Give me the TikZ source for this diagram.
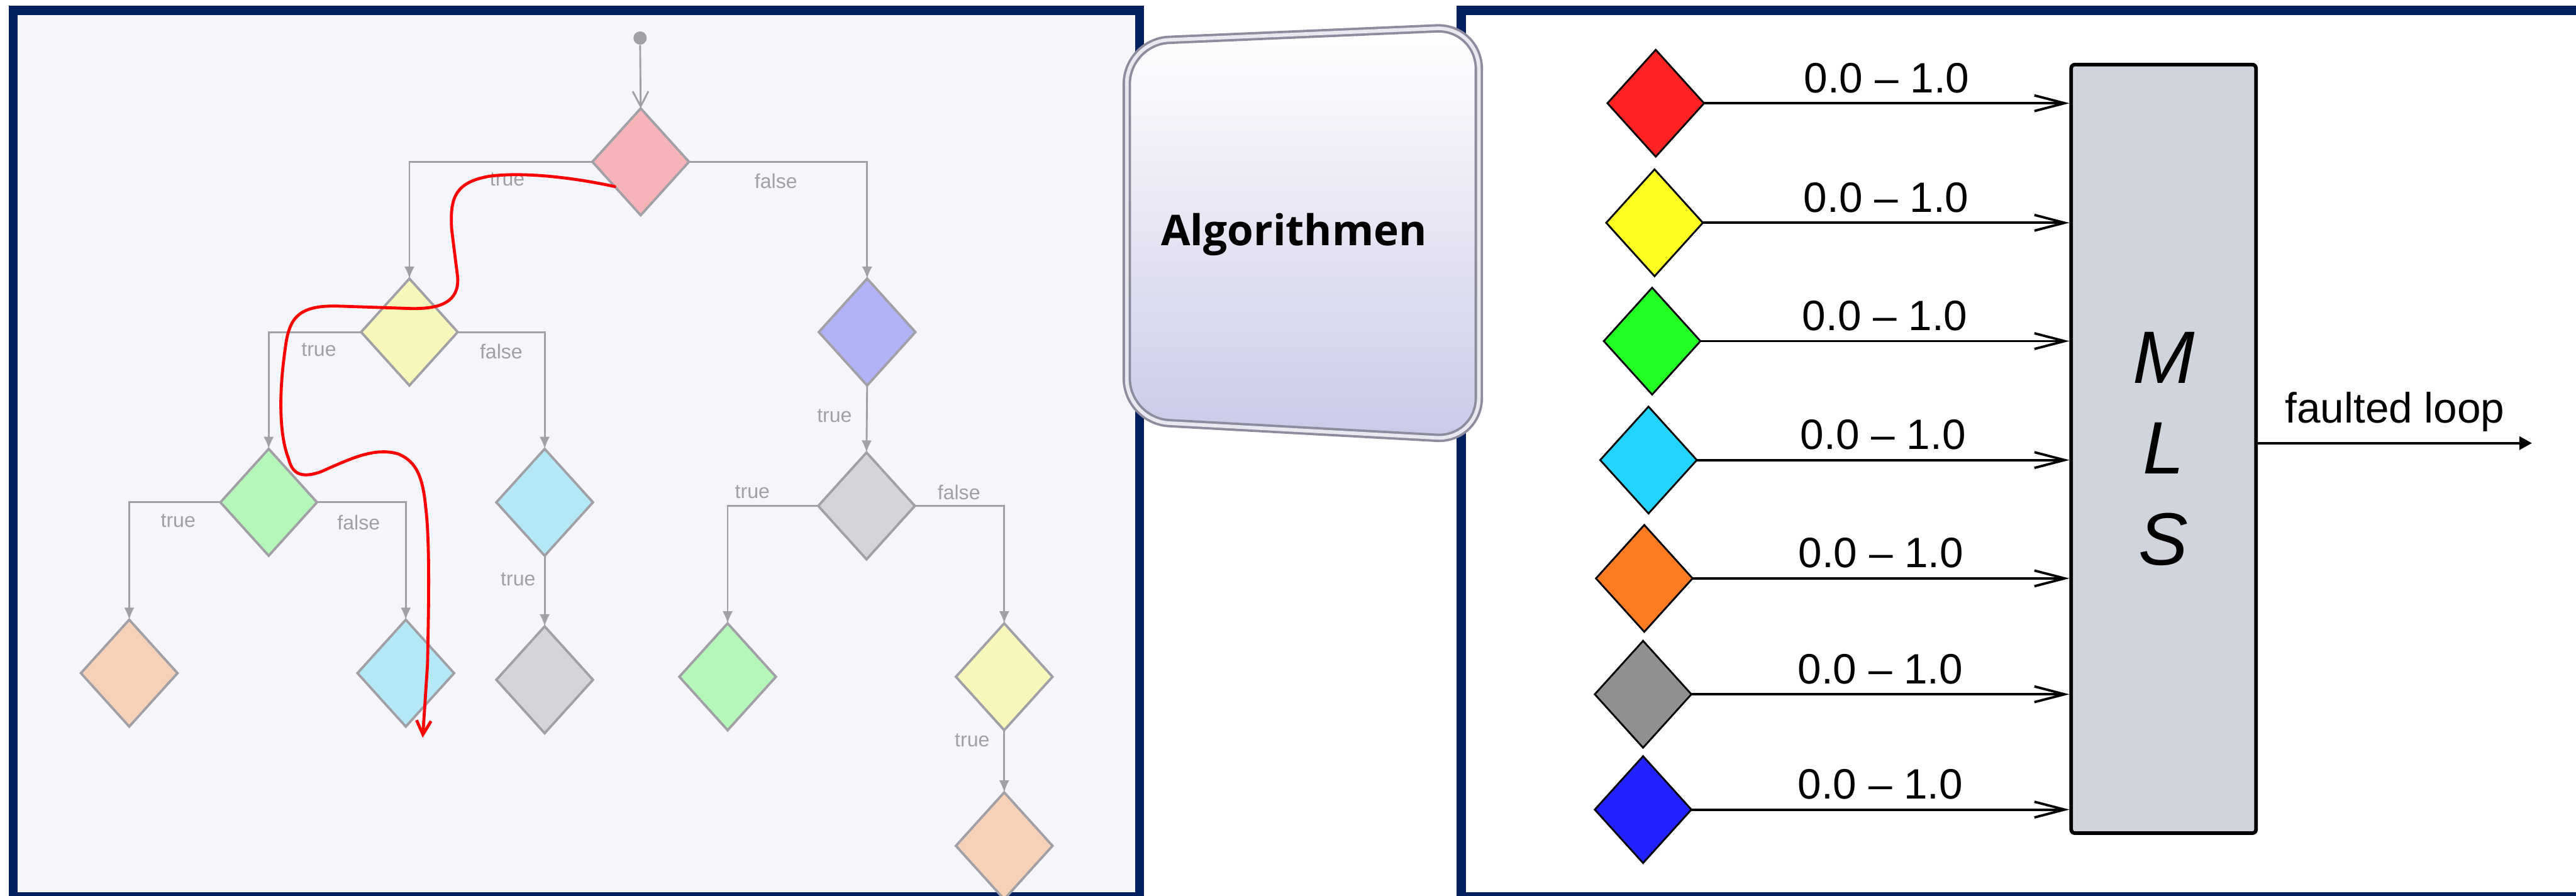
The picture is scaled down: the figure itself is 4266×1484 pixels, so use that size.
\documentclass[tikz,border=0pt]{standalone}
\usepackage{fontspec}
\setmainfont{Liberation Sans}
\newfontfamily\algfont{Open Sans}
\usetikzlibrary{shapes.geometric,arrows.meta,positioning}

\definecolor{navy}{RGB}{0,32,96}
\definecolor{panelbg}{RGB}{246,246,250}
\definecolor{treegray}{RGB}{160,160,166}
\definecolor{pinkd}{RGB}{247,180,184}
\definecolor{yeld}{RGB}{247,246,187}
\definecolor{blud}{RGB}{178,178,247}
\definecolor{grnd}{RGB}{180,247,184}
\definecolor{lblud}{RGB}{180,232,247}
\definecolor{gryd}{RGB}{213,213,217}
\definecolor{pchd}{RGB}{247,208,184}
\definecolor{sigred}{RGB}{255,34,34}
\definecolor{sigyel}{RGB}{255,255,34}
\definecolor{siggrn}{RGB}{34,255,34}
\definecolor{sigcyn}{RGB}{34,212,255}
\definecolor{sigorg}{RGB}{255,123,34}
\definecolor{siggry}{RGB}{144,144,144}
\definecolor{sigblu}{RGB}{34,34,255}
\definecolor{mlsgray}{RGB}{208,212,220}
\definecolor{algbottom}{RGB}{202,202,232}
\definecolor{rimdark}{RGB}{140,140,158}
\definecolor{rimlight}{RGB}{232,232,240}

\begin{document}
\begin{tikzpicture}[x=0.1mm,y=-0.1mm]

\tikzset{dia/.style={diamond, draw=treegray, line width=0.4mm, minimum width=16mm, minimum height=17.7mm, inner sep=0pt, outer sep=0pt},
branch/.style={treegray, line width=0.3mm, -{Latex[length=2mm,width=1.7mm]}},
cond/.style={text=treegray, font=\fontsize{9.5}{11}\selectfont, inner sep=0pt},
sig/.style={diamond, draw=black, line width=0.3mm, minimum width=16mm, minimum height=17.7mm, inner sep=0pt, outer sep=0pt},
feed/.style={black, line width=0.4mm, -{Straight Barb[length=5mm,width=2.6mm]}},
rlabel/.style={font=\fontsize{20}{24}\selectfont, inner sep=1.5mm}}

\useasboundingbox (0,0) rectangle (4266,1484);
\clip (0,0) rectangle (4266,1484);

% the two panels
\draw [navy,line width=1.5mm,fill=panelbg] (22,17) rectangle (1887,1485);
\draw [navy,line width=1.5mm,fill=white] (2420,17) rectangle (4290,1485);

% decision tree
\node [circle,fill=treegray,minimum size=2.2mm,inner sep=0pt] (s) at (1060,63) {};
\node [dia,fill=pinkd] (d0) at (1061,268) {};
\node [dia,fill=yeld] (d1) at (678,550) {};
\node [dia,fill=blud] (d2) at (1436,550) {};
\node [dia,fill=grnd] (d3) at (445,832) {};
\node [dia,fill=lblud] (d4) at (902,832) {};
\node [dia,fill=gryd] (d5) at (1435,838) {};
\node [dia,fill=pchd] (d6) at (214,1115) {};
\node [dia,fill=lblud] (d7) at (672,1115) {};
\node [dia,fill=gryd] (d8) at (902,1126) {};
\node [dia,fill=grnd] (d9) at (1205,1121) {};
\node [dia,fill=yeld] (d10) at (1663,1121) {};
\node [dia,fill=pchd] (d11) at (1663,1401) {};

\draw [treegray,line width=0.3mm,-{Straight Barb[length=2.5mm,width=2.6mm]}] (s) -- (d0.north);
\draw [branch] (d0.west) -| (d1.north);
\draw [branch] (d0.east) -| (d2.north);
\draw [branch] (d1.west) -| (d3.north);
\draw [branch] (d1.east) -| (d4.north);
\draw [branch] (d2.south) -- (d5.north);
\draw [branch] (d3.west) -| (d6.north);
\draw [branch] (d3.east) -| (d7.north);
\draw [branch] (d4.south) -- (d8.north);
\draw [branch] (d5.west) -| (d9.north);
\draw [branch] (d5.east) -| (d10.north);
\draw [branch] (d10.south) -- (d11.north);

\node [cond] (t0) at (840,297) {true};
\node [cond] (f0) at (1285,300) {false};
\node [cond] (t1) at (528,579) {true};
\node [cond] (f1) at (830,582) {false};
\node [cond] (t2) at (1382,689) {true};
\node [cond] (t3) at (295,863) {true};
\node [cond] (f3) at (594,866) {false};
\node [cond] (t4) at (858,960) {true};
\node [cond] (t5) at (1246,815) {true};
\node [cond] (f5) at (1588,815) {false};
\node [cond] (t10) at (1610,1226) {true};

% hand drawn trace through the tree
\coordinate (trace) at (1018,309);
\draw [red,line width=0.5mm,line cap=round,-{Straight Barb[length=2.3mm,width=2.4mm]}] (trace)
  .. controls (940,292) and (860,285) .. (810,292)
  .. controls (752,302) and (745,330) .. (748,380)
  -- (758,460)
  .. controls (760,500) and (730,512) .. (680,511)
  -- (560,507)
  .. controls (490,505) and (478,530) .. (472,580)
  .. controls (462,650) and (462,720) .. (478,760)
  .. controls (485,790) and (505,790) .. (530,782)
  .. controls (580,760) and (620,740) .. (660,752)
  .. controls (690,765) and (700,790) .. (705,840)
  .. controls (712,900) and (710,1000) .. (708,1100)
  -- (700,1222);

% middle box
\shade [top color=white,bottom color=algbottom,rounded corners=7mm] (1866,69) -- (2449,44) -- (2449,729) -- (1866,697) -- cycle;
\draw [rimdark,line width=1.4mm,rounded corners=7mm] (1866,69) -- (2449,44) -- (2449,729) -- (1866,697) -- cycle;
\draw [rimlight,line width=0.6mm,rounded corners=7mm] (1866,69) -- (2449,44) -- (2449,729) -- (1866,697) -- cycle;
\node [font=\algfont\bfseries\fontsize{20}{24}\selectfont] (alg) at (2143,388) {Algorithmen};

% inputs of the MLS block
\node [draw=black,line width=0.6mm,fill=mlsgray,minimum width=30.6mm,minimum height=127.3mm,rounded corners=0.6mm,inner sep=0pt,align=center,font=\fontsize{35}{42.7}\selectfont\itshape] (mls) at (3583,743.5) {M\\L\\S};

\node [sig,fill=sigred] (p1) at (2742,171) {};
\node [sig,fill=sigyel] (p2) at (2740,369) {};
\node [sig,fill=siggrn] (p3) at (2736,565) {};
\node [sig,fill=sigcyn] (p4) at (2730,762) {};
\node [sig,fill=sigorg] (p5) at (2723,958) {};
\node [sig,fill=siggry] (p6) at (2721,1150) {};
\node [sig,fill=sigblu] (p7) at (2721,1341) {};

\draw [feed] (p1.east) -- (p1.east -| mls.west) node [midway,above,rlabel] (v1) {0.0 – 1.0};
\draw [feed] (p2.east) -- (p2.east -| mls.west) node [midway,above,rlabel] (v2) {0.0 – 1.0};
\draw [feed] (p3.east) -- (p3.east -| mls.west) node [midway,above,rlabel] (v3) {0.0 – 1.0};
\draw [feed] (p4.east) -- (p4.east -| mls.west) node [midway,above,rlabel] (v4) {0.0 – 1.0};
\draw [feed] (p5.east) -- (p5.east -| mls.west) node [midway,above,rlabel] (v5) {0.0 – 1.0};
\draw [feed] (p6.east) -- (p6.east -| mls.west) node [midway,above,rlabel] (v6) {0.0 – 1.0};
\draw [feed] (p7.east) -- (p7.east -| mls.west) node [midway,above,rlabel] (v7) {0.0 – 1.0};

\coordinate (out) at (4193,734);
\draw [black,line width=0.4mm,-{Triangle[length=2.1mm,width=2.2mm]}] (out -| mls.east) -- (out) node [midway,above,rlabel,inner sep=1.7mm] (fl) {faulted loop};

\end{tikzpicture}
\end{document}
